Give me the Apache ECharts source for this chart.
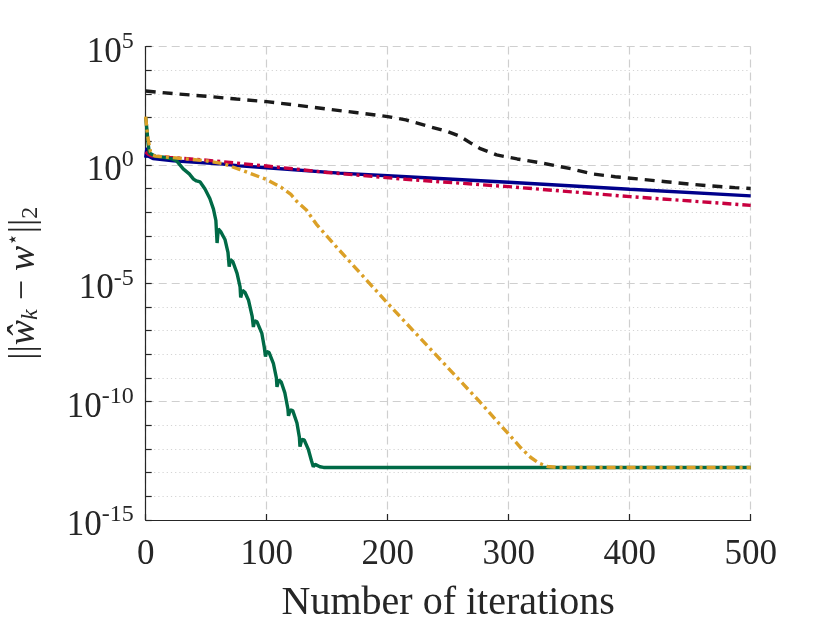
<!DOCTYPE html>
<html><head><meta charset="utf-8">
<script src="https://cdn.jsdelivr.net/npm/echarts@6/dist/echarts.min.js"></script>
<style>html,body{margin:0;padding:0;background:#fff}#c{width:830px;height:623px}</style>
</head><body><div id="c"></div>
<script>
// x axis ticks and y axis (log10 exponent) ticks
const xTicks = [0, 100, 200, 300, 400, 500];
const yTickExponents = [-15, -10, -5, 0, 5];

// Values are log10 of the error
const blackX   = [0, 25, 50, 75, 100, 125, 150, 175, 200, 215, 235, 250, 260, 269, 276, 290, 307, 326, 352, 369, 388, 408, 430, 449, 465, 487, 500];
const blackLog = [3.12, 3.0, 2.9, 2.78, 2.67, 2.52, 2.36, 2.2, 2.04, 1.9, 1.61, 1.4, 1.2, 0.91, 0.70, 0.42, 0.25, 0.09, -0.17, -0.38, -0.5, -0.6, -0.71, -0.81, -0.88, -0.96, -1.0];

const blueX   = [0, 1, 2, 3, 6, 23, 64, 78, 100, 160, 200, 300, 400, 500];
const blueLog = [0.3, 0.72, 0.38, 0.3, 0.27, 0.17, 0.03, -0.04, -0.12, -0.35, -0.46, -0.735, -1.03, -1.31];

const redX   = [0, 2, 5, 20, 50, 100, 150, 215, 300, 400, 500];
const redLog = [0.55, 0.45, 0.38, 0.31, 0.2, -0.05, -0.32, -0.61, -0.92, -1.34, -1.71];

const greenX   = [0, 1, 2, 3, 4, 8, 15, 22, 25.6, 31, 36, 39.5, 42, 45, 49, 53, 56, 58, 59, 60, 62, 65.5, 68, 69, 70, 72, 75.5, 78, 78.5, 80, 82, 85, 88, 89, 90, 92, 96, 98, 99, 100, 102, 105.5, 108, 108.5, 110, 112, 115, 117.5, 118, 119.5, 121.5, 125, 127, 127.5, 129, 131, 134.5, 137, 138.5, 140, 141.5, 144, 147, 500];
const greenLog = [2.0, 1.5, 0.9, 0.5, 0.42, 0.36, 0.32, 0.25, 0.17, -0.17, -0.38, -0.6, -0.68, -0.72, -1.02, -1.42, -1.87, -2.35, -3.3, -2.7, -2.82, -3.15, -3.7, -4.3, -4.0, -4.08, -4.58, -5.15, -5.6, -5.3, -5.38, -5.72, -6.4, -6.85, -6.58, -6.63, -7.12, -7.7, -8.1, -7.88, -7.93, -8.38, -9.0, -9.38, -9.08, -9.17, -9.63, -10.3, -10.6, -10.35, -10.38, -10.9, -11.5, -11.9, -11.6, -11.62, -12.03, -12.5, -12.75, -12.65, -12.66, -12.75, -12.78, -12.78];

const orangeX   = [0, 1, 2, 3, 4, 6, 8, 22, 50, 64, 78, 100, 112, 120, 125, 133, 141, 160, 200, 276, 310, 318, 325, 332, 340, 500];
const orangeLog = [2.04, 1.5, 1.1, 0.8, 0.55, 0.4, 0.37, 0.31, 0.17, 0.05, -0.2, -0.62, -0.95, -1.25, -1.55, -1.92, -2.5, -3.6, -5.85, -10.0, -11.95, -12.35, -12.6, -12.74, -12.78, -12.78];

const pairs = (xs, ys) => xs.map((x, i) => [x, ys[i]]);
const FONT = 'Liberation Serif';
const AX = '#262626';

const chart = echarts.init(document.getElementById('c'), null, {renderer: 'canvas'});
const lineSeries = (name, xs, ys, color, type, z) => ({
  name, type: 'line', data: pairs(xs, ys), showSymbol: false, symbol: 'none',
  lineStyle: {color, width: 3.4, type}, z, animation: false, clip: true
});

chart.setOption({
  animation: false,
  backgroundColor: '#fff',
  grid: {left: 145.7, right: 79.3, top: 46.5, bottom: 103, containLabel: false, outerBoundsMode: 'none'},
  xAxis: {
    type: 'value', min: xTicks[0], max: xTicks[xTicks.length - 1], interval: 100,
    name: 'Number of iterations', nameLocation: 'middle', nameGap: 63,
    nameTextStyle: {fontFamily: FONT, fontSize: 40, color: AX},
    axisLine: {show: true, onZero: false, lineStyle: {color: AX, width: 1.2}},
    axisTick: {show: true, inside: true, length: 6, lineStyle: {color: AX, width: 1.2}},
    axisLabel: {fontFamily: FONT, fontSize: 35, color: AX, margin: 17},
    splitLine: {show: true, lineStyle: {color: '#cfcfcf', width: 1.2, type: [8, 5]}}
  },
  yAxis: {
    type: 'value', min: yTickExponents[0], max: yTickExponents[yTickExponents.length - 1], interval: 5,
    name: '{n|||}{i|ŵ}{sub|k}{n| − }{i|w}{sup|⋆}{n|||}{sub2|2}',
    nameLocation: 'middle', nameGap: 102, nameRotate: 90,
    nameTextStyle: {
      fontFamily: FONT, fontSize: 36, color: AX,
      rich: {
        n: {fontFamily: FONT, fontSize: 36, color: AX},
        i: {fontFamily: FONT, fontStyle: 'italic', fontSize: 38, color: AX},
        sub: {fontFamily: FONT, fontStyle: 'italic', fontSize: 24, color: AX, padding: [14, 0, 0, 0]},
        sub2: {fontFamily: FONT, fontSize: 24, color: AX, padding: [14, 0, 0, 0]},
        sup: {fontFamily: 'DejaVu Sans', fontSize: 20, color: AX, padding: [0, 0, 20, 0]}
      }
    },
    axisLine: {show: true, onZero: false, lineStyle: {color: AX, width: 1.2}},
    axisTick: {show: true, inside: true, length: 6, lineStyle: {color: AX, width: 1.2}},
    minorTick: {show: true, splitNumber: 5, length: 6, lineStyle: {color: AX, width: 1.2}},
    axisLabel: {
      margin: 12,
      formatter: v => '{b|10}{s|' + v + '}',
      rich: {
        b: {fontFamily: FONT, fontSize: 35, color: AX, padding: [12, 0, 0, 0]},
        s: {fontFamily: FONT, fontSize: 24, color: AX, padding: [0, 0, 10, 0]}
      }
    },
    splitLine: {show: true, lineStyle: {color: '#cfcfcf', width: 1.2, type: [8, 5]}},
    minorSplitLine: {show: true, lineStyle: {color: '#d4d4d4', width: 1.2, type: [1.2, 3]}}
  },
  series: [
    lineSeries('black', blackX, blackLog, '#1a1a1a', [10, 7], 2),
    lineSeries('blue', blueX, blueLog, '#00008b', 'solid', 3),
    lineSeries('red', redX, redLog, '#c8003f', [9, 4, 3, 4], 4),
    lineSeries('green', greenX, greenLog, '#006a46', 'solid', 5),
    lineSeries('orange', orangeX, orangeLog, '#dba027', [9, 4, 3, 4], 6)
  ]
});
</script>
</body></html>
